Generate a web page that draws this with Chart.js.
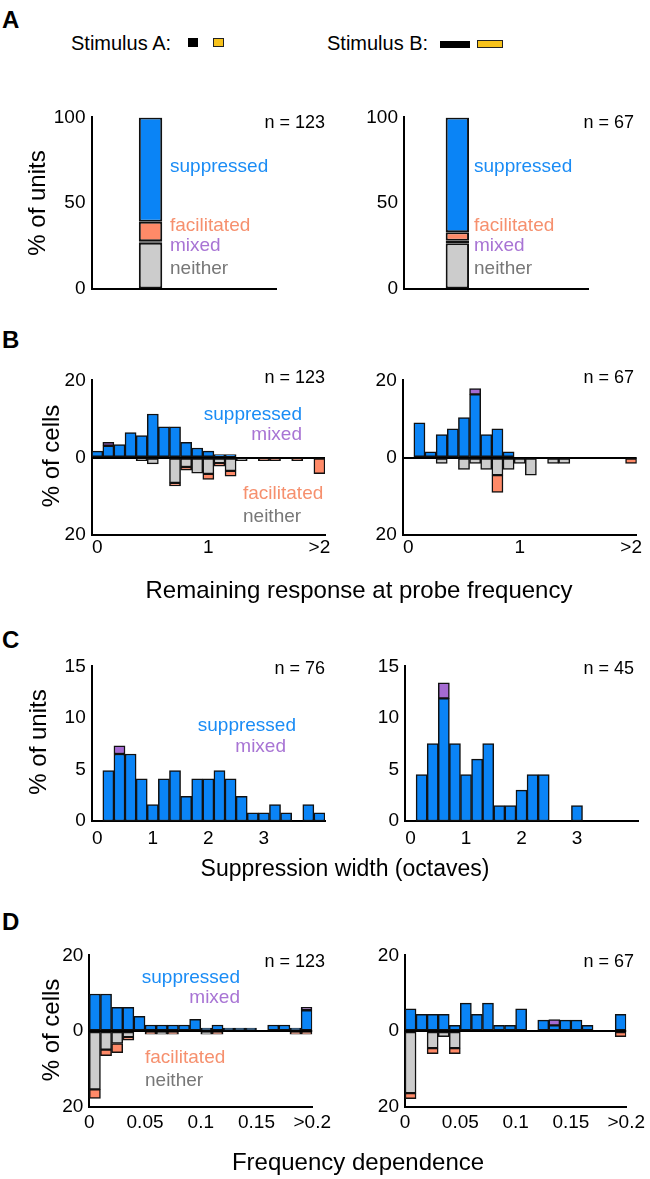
<!DOCTYPE html>
<html>
<head>
<meta charset="utf-8">
<script src="https://cdn.jsdelivr.net/npm/chart.js@4.4.1/dist/chart.umd.min.js"></script>
<style>
  body { margin: 0; width: 650px; height: 1179px; position: relative; overflow: hidden; background: #fff; font-family: "Liberation Sans", Arial, sans-serif; }
  canvas { position: absolute; }
  .t { position: absolute; white-space: nowrap; line-height: 1; }
  .sw { position: absolute; box-sizing: border-box; }
</style>
</head>
<body>
<script>
// ===== data =====
// A: share of units per response class (stacked bottom -> top)
const aGroups = ['neither', 'mixed', 'facilitated', 'suppressed'];
const aLeftPct = [26.8, 0.8, 11.4, 61.0];
const aRightPct = [26.5, 1.5, 4.9, 67.1];
const aLeftBarX = [0.32];
const aRightBarX = [0.29];
const aTicks = [0, 50, 100];

// B: remaining response at probe frequency (bin centres)
const respBins = [0, 0.1, 0.2, 0.3, 0.4, 0.5, 0.6, 0.7, 0.8, 0.9, 1.0, 1.1, 1.2, 1.3, 1.4, 1.5, 1.6, 1.7, 1.8, 1.9, 2.0];
const respTicks = [0, 1, 2];
const respTickLabels = ['0', '1', '>2'];
const bLeftSup = [1.7, 3.1, 3.4, 6.5, 5.7, 11.3, 8.0, 8.0, 4.0, 2.5, 1.7, 0.8, 0.8, 0, 0, 0, 0, 0, 0, 0, 0];
const bLeftMix = [0, 0.9, 0, 0, 0, 0, 0, 0, 0, 0, 0, 0, 0, 0, 0, 0, 0, 0, 0, 0, 0];
const bLeftNei = [0, 0, 0, 0, 0.8, 1.6, 0, 6.5, 2.4, 4.0, 4.2, 1.4, 3.4, 0.8, 0, 0, 0, 0, 0, 0, 0];
const bLeftFac = [0, 0, 0, 0, 0, 0, 0, 0.8, 0.8, 0, 1.4, 0.8, 1.4, 0, 0, 0.8, 0.8, 0, 0.8, 0, 4.1];
const bRightSup = [0, 9.0, 1.5, 6.0, 7.5, 10.4, 16.4, 6.0, 7.5, 1.5, 0, 0, 0, 0, 0, 0, 0, 0, 0, 0, 0];
const bRightMix = [0, 0, 0, 0, 0, 0, 1.5, 0, 0, 0, 0, 0, 0, 0, 0, 0, 0, 0, 0, 0, 0];
const bRightNei = [0, 0, 0, 1.5, 0, 3.0, 1.5, 3.0, 4.5, 3.0, 1.5, 4.5, 0, 1.5, 1.5, 0, 0, 0, 0, 0, 0];
const bRightFac = [0, 0, 0, 0, 0, 0, 0, 0, 4.5, 0, 0, 0, 0, 0, 0, 0, 0, 0, 0, 0, 1.5];

// C: suppression width in octaves (bin centres)
const widthBins = [0, 0.2, 0.4, 0.6, 0.8, 1.0, 1.2, 1.4, 1.6, 1.8, 2.0, 2.2, 2.4, 2.6, 2.8, 3.0, 3.2, 3.4, 3.6, 3.8, 4.0];
const widthTicks = [0, 1, 2, 3];
const widthTickLabels = ['0', '1', '2', '3'];
const cLeftSup = [0, 4.9, 6.5, 6.5, 4.1, 1.6, 4.1, 4.9, 2.4, 4.1, 4.1, 4.9, 4.1, 2.4, 0.8, 0.8, 1.6, 0.8, 0, 1.6, 0.8];
const cLeftMix = [0, 0, 0.8, 0, 0, 0, 0, 0, 0, 0, 0, 0, 0, 0, 0, 0, 0, 0, 0, 0, 0];
const cRightSup = [0, 4.5, 7.5, 11.9, 7.5, 4.5, 6.0, 7.5, 1.5, 1.5, 3.0, 4.5, 4.5, 0, 0, 1.5, 0, 0, 0, 0, 0];
const cRightMix = [0, 0, 0, 1.5, 0, 0, 0, 0, 0, 0, 0, 0, 0, 0, 0, 0, 0, 0, 0, 0, 0];

// D: frequency dependence (bin centres)
const fdBins = [0.005, 0.015, 0.025, 0.035, 0.045, 0.055, 0.065, 0.075, 0.085, 0.095, 0.105, 0.115, 0.125, 0.135, 0.145, 0.155, 0.165, 0.175, 0.185, 0.195];
const fdTicks = [0, 0.05, 0.1, 0.15, 0.2];
const fdTickLabels = ['0', '0.05', '0.1', '0.15', '>0.2'];
const dLeftSup = [9.8, 9.8, 6.3, 6.3, 3.9, 1.6, 1.6, 1.6, 1.6, 3.1, 0.8, 1.6, 0.8, 0.8, 0.8, 0, 1.6, 1.6, 0.8, 5.5];
const dLeftMix = [0, 0, 0, 0, 0, 0, 0, 0, 0, 0, 0, 0, 0, 0, 0, 0, 0, 0, 0, 0.8];
const dLeftNei = [15.4, 4.9, 3.3, 1.6, 0, 0, 0.8, 0, 0, 0, 0.8, 0, 0, 0, 0, 0, 0, 0, 0, 0];
const dLeftFac = [2.4, 1.6, 2.4, 0.8, 0, 0.8, 0, 0.8, 0, 0, 0, 0.8, 0, 0, 0, 0, 0, 0, 0.8, 0.8];
const dRightSup = [5.9, 4.4, 4.4, 4.4, 1.5, 7.4, 4.4, 7.4, 1.5, 1.5, 5.9, 0, 2.9, 1.5, 2.9, 2.9, 1.5, 0, 0, 4.4];
const dRightMix = [0, 0, 0, 0, 0, 0, 0, 0, 0, 0, 0, 0, 0, 1.5, 0, 0, 0, 0, 0, 0];
const dRightNei = [16.4, 0, 4.5, 1.5, 4.5, 0, 0, 0, 0, 0, 0, 0, 0, 0, 0, 0, 0, 0, 0, 0];
const dRightFac = [1.5, 0, 1.5, 0, 1.5, 0, 0, 0, 0, 0, 0, 0, 0, 0, 0, 0, 0, 0, 0, 1.5];

// ===== style =====
const FONT = '"Liberation Sans", Arial, sans-serif';
const COL = { suppressed: '#0a84f6', facilitated: '#ff8a68', mixed: '#a56bd2', neither: '#cccccc' };
const TXT = { suppressed: '#1a8cf5', facilitated: '#f6906e', mixed: '#a874d4', neither: '#777777' };
const EDGE = '#111';

function ds(label, data, color, extra) {
  return Object.assign({ label, data, backgroundColor: color, borderColor: EDGE, borderWidth: 1.5,
    borderSkipped: false, barPercentage: 1, categoryPercentage: 1 }, extra || {});
}
const neg = arr => arr.map(v => -v);

function yScale(min, max, step, zeroLine) {
  return {
    stacked: true, min, max,
    ticks: { stepSize: step, callback: v => Math.abs(v), font: { family: FONT, size: 19 }, color: '#000', padding: 6 },
    grid: { display: zeroLine, drawTicks: false, lineWidth: 2,
      color: c => (c.tick && c.tick.value === 0 ? '#000' : 'rgba(0,0,0,0)') },
    border: { color: '#000', width: 2 }
  };
}

function xHist(bins, ticks, labels, pad) {
  const half = (bins[1] - bins[0]) / 2;
  return {
    type: 'linear', stacked: true, offset: false, min: bins[0] - half, max: bins[bins.length - 1] + half,
    afterBuildTicks: s => { s.ticks = ticks.map(v => ({ value: v })); },
    ticks: { callback: (v, i) => labels[i], font: { family: FONT, size: 19 }, color: '#000', padding: pad, maxRotation: 0, autoSkip: false },
    grid: { display: false, drawTicks: false },
    border: { color: '#000', width: 2 }
  };
}

// area = wanted plot area in page pixels
function makeChart(area, xH, labels, datasets, scales) {
  const YW = 60, P = { l: 6, t: 14, r: 22, b: 14 };
  const x0 = Math.floor(area.l - YW - P.l), y0 = Math.floor(area.t - P.t);
  const w = Math.ceil(area.r + P.r - x0), h = Math.ceil(area.b + xH + P.b - y0);
  const cv = document.createElement('canvas');
  cv.width = w; cv.height = h;
  cv.style.left = x0 + 'px'; cv.style.top = y0 + 'px';
  cv.style.width = w + 'px'; cv.style.height = h + 'px';
  document.body.appendChild(cv);
  scales.y.afterFit = s => { s.width = YW; };
  scales.x.afterFit = s => { s.height = xH; };
  return new Chart(cv, {
    type: 'bar',
    data: { labels, datasets },
    options: {
      responsive: false, animation: false, devicePixelRatio: 1,
      layout: { padding: { left: area.l - YW - x0, top: area.t - y0, right: x0 + w - area.r, bottom: y0 + h - area.b - xH } },
      plugins: { legend: { display: false }, tooltip: { enabled: false } },
      scales
    }
  });
}

// ----- A -----
function stackedA(area, barX, pct) {
  const sets = aGroups.map((g, i) => ds(g, [pct[i]], COL[g], { barPercentage: 0.127, borderWidth: 2 }));
  makeChart(area, 0, barX, sets, {
    x: { type: 'linear', stacked: true, offset: false, min: 0, max: 1, afterBuildTicks: s => { s.ticks = []; },
      ticks: { display: false }, grid: { display: false, drawTicks: false }, border: { color: '#000', width: 2 } },
    y: yScale(aTicks[0], aTicks[2], aTicks[1], false)
  });
}
stackedA({ l: 91.5, r: 276, t: 114, b: 292 }, aLeftBarX, aLeftPct);
stackedA({ l: 404, r: 588, t: 114.5, b: 291.5 }, aRightBarX, aRightPct);

// ----- B / D (up: suppressed+mixed, down: neither+facilitated) -----
function updown(area, bins, xt, xl, pad, sup, mix, nei, fac) {
  makeChart(area, 32, bins, [
    ds('suppressed', sup, COL.suppressed),
    ds('mixed', mix, COL.mixed),
    ds('neither', neg(nei), COL.neither),
    ds('facilitated', neg(fac), COL.facilitated)
  ], { x: xHist(bins, xt, xl, pad), y: yScale(-20, 20, 20, true) });
}
updown({ l: 91.7, r: 325, t: 377, b: 535 }, respBins, respTicks, respTickLabels, 1, bLeftSup, bLeftMix, bLeftNei, bLeftFac);
updown({ l: 402.7, r: 636.7, t: 377, b: 535 }, respBins, respTicks, respTickLabels, 1, bRightSup, bRightMix, bRightNei, bRightFac);

// ----- C -----
function widthChart(area, sup, mix) {
  makeChart(area, 32, widthBins, [
    ds('suppressed', sup, COL.suppressed),
    ds('mixed', mix, COL.mixed)
  ], { x: xHist(widthBins, widthTicks, widthTickLabels, 6), y: yScale(0, 15, 5, false) });
}
widthChart({ l: 91.7, r: 325, t: 663, b: 821 }, cLeftSup, cLeftMix);
widthChart({ l: 405, r: 638, t: 663, b: 821 }, cRightSup, cRightMix);

updown({ l: 89.3, r: 313.3, t: 952.7, b: 1106.7 }, fdBins, fdTicks, fdTickLabels, 5, dLeftSup, dLeftMix, dLeftNei, dLeftFac);
updown({ l: 405, r: 628, t: 952.7, b: 1106.7 }, fdBins, fdTicks, fdTickLabels, 5, dRightSup, dRightMix, dRightNei, dRightFac);

// ===== text =====
function txt(s, x, base, o) {
  o = o || {};
  const fs = o.size || 19;
  const d = document.createElement('div');
  d.className = 't';
  d.textContent = s;
  d.style.fontSize = fs + 'px';
  d.style.color = o.color || '#000';
  if (o.bold) d.style.fontWeight = 'bold';
  d.style.top = (base - 0.8465 * fs) + 'px';
  if (o.align === 'right') d.style.right = (650 - x) + 'px';
  else if (o.align === 'center') { d.style.left = x + 'px'; d.style.transform = 'translateX(-50%)'; }
  else d.style.left = x + 'px';
  document.body.appendChild(d);
}
function ytitle(s, cx, cy) {
  const d = document.createElement('div');
  d.className = 't';
  d.textContent = s;
  d.style.fontSize = '24px';
  d.style.left = cx + 'px'; d.style.top = cy + 'px';
  d.style.transform = 'translate(-50%,-50%) rotate(-90deg)';
  document.body.appendChild(d);
}
function swatch(x, y, w, h, bg, border) {
  const d = document.createElement('div');
  d.className = 'sw';
  Object.assign(d.style, { left: x + 'px', top: y + 'px', width: w + 'px', height: h + 'px', background: bg, border: border || 'none' });
  document.body.appendChild(d);
}

// panel letters
txt('A', 2, 28, { size: 24, bold: true });
txt('B', 2, 348, { size: 24, bold: true });
txt('C', 2, 648, { size: 24, bold: true });
txt('D', 2, 930, { size: 24, bold: true });

// stimulus key
txt('Stimulus A:', 71, 50, { size: 20 });
txt('Stimulus B:', 327, 50, { size: 20 });
swatch(188, 38, 10, 9, '#000');
swatch(213, 38, 11, 9, '#f7c21b', '1.5px solid #222');
swatch(440, 40.5, 30, 7, '#000');
swatch(477, 40, 26, 8, '#f7c21b', '1.5px solid #222');

// n labels
[[128, 'n = 123', 'n = 67'], [383, 'n = 123', 'n = 67'], [674, 'n = 76', 'n = 45'], [967, 'n = 123', 'n = 67']].forEach(r => {
  txt(r[1], 325, r[0], { size: 18, align: 'right' });
  txt(r[2], 634, r[0], { size: 18, align: 'right' });
});

// class labels
[170, 474].forEach(x => {
  txt('suppressed', x, 172, { color: TXT.suppressed });
  txt('facilitated', x, 231, { color: TXT.facilitated });
  txt('mixed', x, 251, { color: TXT.mixed });
  txt('neither', x, 274, { color: TXT.neither });
});
txt('suppressed', 302, 420, { color: TXT.suppressed, align: 'right' });
txt('mixed', 302, 440, { color: TXT.mixed, align: 'right' });
txt('facilitated', 243, 499, { color: TXT.facilitated });
txt('neither', 243, 522, { color: TXT.neither });
txt('suppressed', 296, 731, { color: TXT.suppressed, align: 'right' });
txt('mixed', 286, 752, { color: TXT.mixed, align: 'right' });
txt('suppressed', 240, 983, { color: TXT.suppressed, align: 'right' });
txt('mixed', 240, 1003, { color: TXT.mixed, align: 'right' });
txt('facilitated', 145, 1063, { color: TXT.facilitated });
txt('neither', 145, 1086, { color: TXT.neither });

// axis titles
ytitle('% of units', 36.7, 203);
ytitle('% of cells', 50.7, 456);
ytitle('% of units', 38, 742);
ytitle('% of cells', 50.7, 1030);
txt('Remaining response at probe frequency', 359, 598, { size: 24, align: 'center' });
txt('Suppression width (octaves)', 345, 876, { size: 23, align: 'center' });
txt('Frequency dependence', 358, 1170, { size: 24, align: 'center' });
</script>
</body>
</html>
